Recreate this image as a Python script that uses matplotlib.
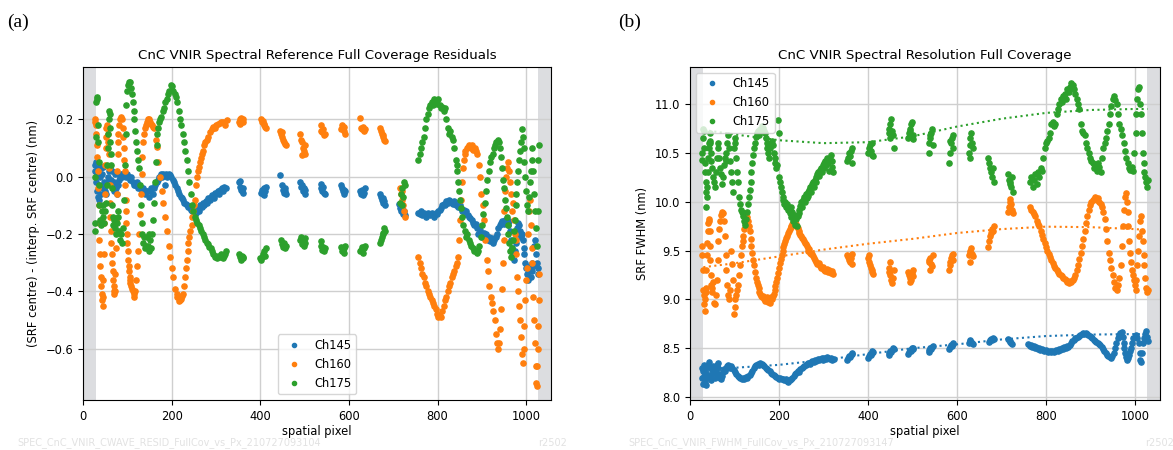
import matplotlib
matplotlib.use("Agg")
import matplotlib.pyplot as plt

# ---- panel (a): centre residuals, (pixel, nm) ----
resid_145 = [
    (27, 0.04), (28, 0.02), (29, -0.02), (30, 0.05), (31, -0.05), (32, 0.01), (33, -0.07), (34, 0.03),
    (35, -0.03), (36, 0.04), (37, -0.08), (38, 0.0), (40, 0.03), (41, -0.06), (42, 0.01), (44, -0.04),
    (45, 0.035), (47, -0.02), (49, -0.05), (51, -0.03), (53, -0.06), (55, -0.02), (57, 0.0), (59, 0.02),
    (61, 0.03), (63, -0.01), (65, 0.02), (67, -0.03), (69, -0.05), (71, -0.02), (73, 0.01), (75, -0.04),
    (77, -0.06), (79, -0.03), (81, -0.01), (83, 0.0), (85, 0.01), (88, 0.0), (91, 0.01), (94, 0.005),
    (97, 0.0), (100, 0.01), (103, 0.0), (106, -0.01), (109, 0.0), (112, -0.02), (115, -0.03), (118, -0.03),
    (121, -0.02), (124, -0.04), (127, -0.03), (130, -0.04), (133, -0.05), (136, -0.04), (139, -0.06),
    (142, -0.05), (145, -0.05), (148, -0.07), (151, -0.05), (154, -0.04), (157, -0.06), (160, -0.04),
    (163, -0.03), (166, -0.02), (169, -0.01), (172, 0.0), (175, 0.01), (178, 0.0), (181, 0.01),
    (184, 0.005), (185, -0.03), (187, 0.01), (190, 0.0), (193, 0.01), (196, 0.005), (199, 0.0), (202, -0.01),
    (205, -0.02), (208, -0.03), (211, -0.04), (214, -0.05), (217, -0.06), (220, -0.07), (223, -0.075),
    (226, -0.08), (229, -0.09), (232, -0.095), (235, -0.1), (238, -0.105), (241, -0.11), (244, -0.115),
    (247, -0.12), (250, -0.12), (253, -0.115), (256, -0.125), (259, -0.11), (262, -0.12), (265, -0.1),
    (268, -0.105), (271, -0.09), (274, -0.1), (277, -0.085), (280, -0.09), (283, -0.075), (286, -0.08),
    (289, -0.07), (292, -0.065), (295, -0.075), (298, -0.055), (301, -0.06), (304, -0.05), (307, -0.06),
    (310, -0.045), (313, -0.04), (316, -0.05), (319, -0.035), (322, -0.04),
    (352, -0.02), (354, -0.035), (356, -0.045), (358, -0.05), (360, -0.04), (362, -0.055), (355, -0.015),
    (402, -0.055), (404, -0.045), (406, -0.06), (408, -0.04), (410, -0.05), (412, -0.035), (409, -0.065),
    (445, 0.005), (450, -0.03), (452, -0.045), (454, -0.055), (456, -0.04), (458, -0.06), (455, -0.05),
    (490, -0.02), (492, -0.035), (494, -0.03), (496, -0.05), (498, -0.04), (500, -0.06), (502, -0.045),
    (536, -0.025), (538, -0.04), (540, -0.05), (542, -0.035), (544, -0.055), (546, -0.06),
    (582, -0.03), (584, -0.04), (586, -0.05), (588, -0.045), (590, -0.06), (592, -0.05),
    (626, -0.05), (628, -0.06), (630, -0.045), (632, -0.065), (634, -0.055), (636, -0.04),
    (670, -0.06), (672, -0.07), (674, -0.08), (676, -0.075), (678, -0.09), (680, -0.085), (682, -0.1),
    (714, -0.095), (716, -0.11), (718, -0.12), (720, -0.105), (722, -0.13), (724, -0.12), (726, -0.135),
    (757, -0.125), (760, -0.13), (763, -0.12), (766, -0.135), (769, -0.125), (772, -0.13), (775, -0.14),
    (778, -0.125), (781, -0.13), (784, -0.135), (787, -0.125), (790, -0.13), (793, -0.14), (796, -0.125),
    (799, -0.13), (802, -0.12), (805, -0.115), (808, -0.11), (811, -0.1), (814, -0.095), (817, -0.1),
    (820, -0.085), (823, -0.09), (826, -0.08), (829, -0.085), (832, -0.09), (835, -0.095), (838, -0.085),
    (841, -0.1), (844, -0.09), (847, -0.105), (850, -0.1), (853, -0.11), (856, -0.12), (859, -0.115),
    (862, -0.13), (865, -0.12), (868, -0.135), (871, -0.14), (874, -0.145), (877, -0.15), (880, -0.16),
    (883, -0.17), (886, -0.165), (889, -0.18), (892, -0.2), (895, -0.185), (898, -0.2), (901, -0.21),
    (904, -0.195), (907, -0.215), (910, -0.2), (913, -0.22), (916, -0.21), (919, -0.225), (922, -0.215),
    (925, -0.23), (928, -0.22), (931, -0.21), (934, -0.2), (937, -0.18), (940, -0.17), (943, -0.16),
    (946, -0.155), (949, -0.165), (952, -0.15), (955, -0.16), (958, -0.17), (961, -0.155), (964, -0.19),
    (966, -0.22), (968, -0.25), (970, -0.27), (972, -0.29), (974, -0.26), (976, -0.23), (978, -0.2),
    (980, -0.18), (982, -0.16), (984, -0.17), (986, -0.19), (988, -0.21), (990, -0.2), (992, -0.22),
    (994, -0.25), (996, -0.27), (998, -0.3), (1000, -0.32), (1002, -0.34), (1004, -0.36), (1006, -0.33),
    (1008, -0.31), (1010, -0.35), (1012, -0.3), (1014, -0.33), (1016, -0.31), (1018, -0.24), (1020, -0.22),
    (1022, -0.27), (1024, -0.3), (1026, -0.34), (1027, -0.32),
]

resid_160 = [
    (27, 0.19), (28, 0.2), (29, 0.18), (30, 0.15), (31, 0.11), (32, 0.07), (33, 0.02), (34, -0.04),
    (35, -0.1), (36, -0.16), (37, -0.22), (38, -0.27), (39, -0.31), (40, -0.35), (41, -0.38), (42, -0.41),
    (43, -0.43), (44, -0.45), (45, -0.42), (46, -0.36), (47, -0.27), (48, -0.16), (49, -0.06), (50, 0.04),
    (51, 0.1), (52, 0.14), (53, 0.17), (54, 0.18), (55, 0.17), (56, 0.15), (57, 0.12), (58, 0.08),
    (59, 0.03), (60, -0.03), (61, -0.09), (62, -0.14), (63, -0.19), (64, -0.23), (65, -0.27), (66, -0.3),
    (67, -0.33), (68, -0.36), (69, -0.38), (70, -0.4), (71, -0.41), (72, -0.4), (73, -0.34), (74, -0.25),
    (75, -0.15), (76, -0.06), (77, 0.02), (78, 0.08), (79, 0.12), (80, 0.15), (82, 0.18), (84, 0.2),
    (86, 0.21), (88, 0.2), (90, 0.17), (91, 0.14), (92, 0.1), (93, 0.06), (94, 0.02), (95, -0.03),
    (96, -0.08), (97, -0.12), (98, -0.16), (99, -0.2), (100, -0.23), (101, -0.26), (102, -0.29),
    (103, -0.31), (104, -0.33), (105, -0.35), (106, -0.36), (107, -0.37), (108, -0.38), (110, -0.39),
    (112, -0.4), (114, -0.41), (116, -0.42), (118, -0.4), (120, -0.36), (122, -0.31), (124, -0.26),
    (126, -0.2), (128, -0.13), (130, -0.06), (132, 0.01), (134, 0.07), (136, 0.12), (138, 0.15),
    (140, 0.17), (142, 0.18), (144, 0.19), (146, 0.2), (148, 0.195), (150, 0.2), (152, 0.19), (154, 0.185),
    (156, 0.18), (158, 0.175), (160, 0.17), (164, 0.13), (166, 0.105), (170, 0.05), (174, 0.0),
    (178, -0.05), (181, -0.09), (185, -0.14), (189, -0.19), (193, -0.24), (196, -0.28), (200, -0.32),
    (204, -0.35), (208, -0.39), (211, -0.41), (213, -0.42), (215, -0.42), (217, -0.435), (219, -0.43),
    (222, -0.425), (224, -0.415), (226, -0.41), (228, -0.38), (230, -0.35), (232, -0.32), (234, -0.29),
    (236, -0.26), (238, -0.23), (240, -0.21), (242, -0.19), (245, -0.17), (247, -0.14), (249, -0.12),
    (251, -0.1), (253, -0.08), (256, -0.03), (258, 0.0), (260, 0.02), (262, 0.035), (264, 0.05),
    (266, 0.065), (268, 0.08), (270, 0.09), (273, 0.11), (276, 0.12), (279, 0.13), (282, 0.14),
    (286, 0.155), (290, 0.165), (294, 0.175), (297, 0.17), (301, 0.18), (305, 0.185), (309, 0.186),
    (312, 0.19), (316, 0.19), (320, 0.18), (324, 0.198),
    (352, 0.19), (354, 0.2), (356, 0.205), (358, 0.195), (360, 0.19), (362, 0.2), (355, 0.185),
    (402, 0.2), (404, 0.19), (406, 0.195), (408, 0.18), (410, 0.175), (412, 0.17), (409, 0.185),
    (445, 0.16), (447, 0.15), (449, 0.14), (451, 0.13), (453, 0.12), (455, 0.115), (457, 0.11), (450, 0.155),
    (490, 0.15), (492, 0.13), (494, 0.12), (496, 0.1), (498, 0.09), (500, 0.08), (502, 0.11), (495, 0.075),
    (536, 0.18), (538, 0.16), (540, 0.155), (542, 0.165), (544, 0.145), (546, 0.15),
    (582, 0.165), (584, 0.18), (586, 0.17), (588, 0.16), (590, 0.175), (592, 0.15),
    (626, 0.205), (628, 0.17), (630, 0.165), (632, 0.175), (634, 0.16), (636, 0.165),
    (670, 0.17), (672, 0.16), (674, 0.15), (676, 0.145), (678, 0.14), (680, 0.13), (682, 0.125),
    (716, -0.04), (718, -0.06), (720, -0.08), (722, -0.1), (724, -0.12), (726, -0.14), (719, -0.05),
    (757, -0.28), (760, -0.3), (763, -0.32), (766, -0.34), (769, -0.35), (772, -0.37), (775, -0.38),
    (778, -0.4), (781, -0.41), (784, -0.42), (787, -0.43), (790, -0.44), (793, -0.45), (796, -0.46),
    (799, -0.48), (802, -0.49), (805, -0.485), (808, -0.49), (811, -0.47), (814, -0.45), (817, -0.43),
    (820, -0.42), (823, -0.4), (826, -0.38), (829, -0.37), (832, -0.35), (835, -0.34), (838, -0.33),
    (841, -0.31), (844, -0.3), (847, -0.28), (849, -0.22), (851, -0.15), (853, -0.08), (855, -0.02),
    (857, 0.03), (859, 0.06), (861, 0.08), (863, 0.09), (866, 0.1), (869, 0.105), (872, 0.11), (875, 0.1),
    (878, 0.11), (881, 0.095), (884, 0.1), (887, 0.09), (890, 0.08), (893, 0.04), (896, 0.0), (899, -0.06),
    (902, -0.1), (905, -0.15), (908, -0.22), (911, -0.29), (914, -0.33), (917, -0.38), (920, -0.42),
    (923, -0.44), (926, -0.47), (929, -0.5), (932, -0.55), (935, -0.58), (937, -0.6), (939, -0.58),
    (941, -0.53), (943, -0.46), (945, -0.39), (947, -0.3), (949, -0.22), (951, -0.12), (953, -0.05),
    (955, 0.0), (957, 0.03), (960, 0.05), (962, 0.02), (964, -0.02), (966, -0.06), (968, -0.12),
    (970, -0.09), (972, -0.15), (974, -0.2), (976, -0.22), (978, -0.27), (980, -0.35), (982, -0.4),
    (984, -0.45), (986, -0.5), (988, -0.56), (990, -0.62), (992, -0.65), (994, -0.6), (996, -0.52),
    (998, -0.43), (1000, -0.36), (1002, -0.32), (1004, -0.2), (1006, -0.12), (1008, -0.08), (1010, -0.17),
    (1012, -0.25), (1014, -0.3), (1016, -0.42), (1018, -0.5), (1020, -0.58), (1022, -0.66), (1023, -0.72),
    (1024, -0.73), (1025, -0.66), (1026, -0.6), (1027, -0.52), (1028, -0.43), (1028, -0.34),
]

resid_175 = [
    (26, -0.16), (27, -0.19), (28, 0.0), (29, 0.14), (30, 0.26), (31, 0.28), (32, 0.27), (33, 0.18),
    (34, 0.12), (35, 0.05), (36, -0.03), (37, -0.1), (38, -0.15), (40, -0.17), (42, -0.12), (44, -0.1),
    (46, -0.14), (48, -0.16), (50, -0.12), (52, -0.09), (54, -0.03), (55, 0.04), (56, 0.1), (57, 0.15),
    (58, 0.2), (59, 0.23), (60, 0.22), (61, 0.17), (62, 0.12), (63, 0.08), (64, 0.04), (65, -0.04),
    (66, -0.1), (67, -0.14), (68, -0.17), (70, -0.15), (72, -0.18), (74, -0.2), (76, -0.16), (78, -0.12),
    (80, -0.14), (82, -0.19), (84, -0.22), (86, -0.2), (88, -0.23), (90, -0.18), (92, -0.08), (94, 0.04),
    (96, 0.15), (98, 0.25), (100, 0.3), (102, 0.32), (104, 0.33), (106, 0.33), (108, 0.31), (110, 0.29),
    (112, 0.26), (114, 0.23), (116, 0.2), (118, 0.16), (120, 0.12), (122, 0.09), (124, 0.06), (126, 0.03),
    (128, -0.03), (130, -0.1), (132, -0.16), (134, -0.2), (136, -0.23), (138, -0.21), (140, -0.25),
    (142, -0.24), (144, -0.21), (146, -0.24), (148, -0.2), (150, -0.26), (152, -0.22), (154, -0.25),
    (156, -0.2), (158, -0.15), (160, -0.09), (162, -0.02), (164, 0.05), (166, 0.11), (168, 0.15),
    (170, 0.17), (172, 0.19), (174, 0.2), (177, 0.21), (180, 0.23), (183, 0.24), (186, 0.26), (189, 0.27),
    (192, 0.29), (195, 0.3), (198, 0.32), (201, 0.315), (204, 0.3), (207, 0.29), (210, 0.28), (213, 0.26),
    (216, 0.23), (219, 0.2), (222, 0.18), (225, 0.15), (228, 0.12), (231, 0.09), (234, 0.06), (237, 0.02),
    (240, -0.02), (243, -0.06), (246, -0.1), (249, -0.12), (252, -0.14), (255, -0.15), (258, -0.16),
    (261, -0.17), (264, -0.18), (267, -0.19), (270, -0.2), (273, -0.21), (276, -0.22), (279, -0.23),
    (282, -0.235), (285, -0.245), (288, -0.25), (291, -0.26), (294, -0.27), (297, -0.28), (300, -0.275),
    (303, -0.285), (306, -0.275), (309, -0.28), (312, -0.27), (315, -0.285), (318, -0.275), (321, -0.27),
    (323, -0.26),
    (352, -0.27), (354, -0.28), (356, -0.29), (358, -0.275), (360, -0.285), (362, -0.28),
    (400, -0.285), (402, -0.29), (404, -0.28), (406, -0.27), (408, -0.26), (410, -0.275), (412, -0.25),
    (447, -0.22), (449, -0.235), (451, -0.245), (453, -0.23), (455, -0.25), (457, -0.24),
    (490, -0.22), (492, -0.21), (494, -0.235), (496, -0.225), (498, -0.24), (500, -0.23), (502, -0.215),
    (536, -0.225), (538, -0.24), (540, -0.255), (542, -0.245), (544, -0.26), (546, -0.25),
    (582, -0.245), (584, -0.26), (586, -0.255), (588, -0.265), (590, -0.25), (592, -0.24),
    (626, -0.26), (628, -0.255), (630, -0.245), (632, -0.265), (634, -0.25), (636, -0.24),
    (670, -0.23), (672, -0.22), (674, -0.21), (676, -0.2), (678, -0.195), (680, -0.18), (682, -0.19),
    (716, -0.09), (718, -0.06), (720, -0.04), (722, -0.07), (724, -0.02), (726, -0.03), (719, -0.1),
    (757, 0.06), (760, 0.08), (763, 0.1), (766, 0.12), (769, 0.14), (772, 0.17), (775, 0.2), (778, 0.22),
    (781, 0.24), (784, 0.25), (787, 0.26), (790, 0.25), (793, 0.27), (796, 0.26), (799, 0.255), (802, 0.27),
    (805, 0.25), (808, 0.24), (811, 0.245), (814, 0.23), (817, 0.24), (820, 0.2), (823, 0.17), (826, 0.15),
    (829, 0.16), (832, 0.14), (835, 0.13), (838, 0.1), (841, 0.06), (843, 0.04), (845, 0.02), (847, -0.02),
    (849, -0.05), (851, -0.08), (853, -0.11), (855, -0.14), (858, -0.17), (861, -0.19), (864, -0.21),
    (867, -0.2), (870, -0.22), (873, -0.23), (876, -0.24), (879, -0.25), (882, -0.26), (885, -0.255),
    (888, -0.265), (891, -0.26), (894, -0.24), (897, -0.21), (900, -0.17), (903, -0.13), (906, -0.09),
    (909, -0.05), (912, -0.01), (915, 0.02), (918, 0.05), (921, 0.07), (924, 0.08), (927, 0.1), (930, 0.11),
    (933, 0.12), (936, 0.13), (939, 0.12), (942, 0.1), (944, 0.07), (946, 0.03), (948, -0.01), (950, -0.04),
    (952, -0.08), (954, -0.11), (956, -0.14), (958, -0.17), (960, -0.2), (962, -0.23), (964, -0.26),
    (966, -0.28), (968, -0.25), (970, -0.22), (972, -0.19), (974, -0.15), (976, -0.1), (978, -0.06),
    (980, -0.02), (982, 0.02), (984, 0.06), (986, 0.09), (988, 0.12), (990, 0.165), (992, 0.14), (994, 0.1),
    (996, 0.05), (998, 0.0), (1000, -0.05), (1002, -0.1), (1004, -0.12), (1006, -0.07), (1008, -0.02),
    (1010, 0.02), (1012, 0.06), (1014, 0.1), (1016, 0.02), (1018, -0.06), (1020, -0.12), (1022, -0.18),
    (1024, -0.24), (1026, -0.12), (1027, 0.06), (1028, 0.11),
]

# ---- panel (b): FWHM, (pixel, nm) ----
fwhm_145 = [
    (27, 8.3), (28, 8.2), (29, 8.13), (30, 8.27), (31, 8.33), (32, 8.22), (33, 8.15), (34, 8.3), (35, 8.25),
    (36, 8.12), (38, 8.2), (40, 8.33), (42, 8.36), (44, 8.3), (46, 8.22), (48, 8.17), (50, 8.25), (52, 8.32),
    (54, 8.28), (56, 8.2), (58, 8.25), (60, 8.33), (62, 8.35), (64, 8.3), (66, 8.24), (68, 8.2), (70, 8.18),
    (72, 8.22), (74, 8.26), (76, 8.29), (78, 8.27), (80, 8.3), (83, 8.32), (86, 8.33), (89, 8.3), (92, 8.32),
    (95, 8.3), (98, 8.28), (101, 8.26), (104, 8.24), (107, 8.22), (110, 8.21), (113, 8.2), (116, 8.19),
    (119, 8.2), (122, 8.19), (125, 8.21), (128, 8.2), (131, 8.22), (134, 8.23), (137, 8.25), (140, 8.27),
    (143, 8.3), (146, 8.32), (149, 8.33), (152, 8.34), (155, 8.33), (158, 8.35), (161, 8.34), (164, 8.33),
    (167, 8.32), (170, 8.3), (173, 8.29), (176, 8.28), (179, 8.27), (182, 8.25), (185, 8.24), (188, 8.23),
    (191, 8.22), (194, 8.21), (197, 8.2), (200, 8.19), (203, 8.2), (206, 8.18), (209, 8.19), (212, 8.17),
    (215, 8.18), (218, 8.16), (221, 8.15), (224, 8.17), (227, 8.19), (230, 8.2), (233, 8.22), (236, 8.24),
    (239, 8.25), (242, 8.27), (245, 8.26), (248, 8.29), (251, 8.3), (254, 8.31), (257, 8.32), (260, 8.33),
    (263, 8.34), (266, 8.35), (269, 8.34), (272, 8.36), (275, 8.37), (278, 8.36), (281, 8.38), (284, 8.37),
    (287, 8.39), (290, 8.38), (293, 8.39), (296, 8.4), (299, 8.38), (302, 8.4), (305, 8.39), (308, 8.41),
    (311, 8.4), (314, 8.39), (317, 8.4), (320, 8.38), (323, 8.39),
    (353, 8.38), (355, 8.4), (357, 8.42), (359, 8.41), (361, 8.43), (363, 8.45), (365, 8.44),
    (400, 8.4), (402, 8.42), (404, 8.44), (406, 8.43), (408, 8.45), (410, 8.47), (412, 8.46),
    (446, 8.43), (448, 8.45), (450, 8.47), (452, 8.46), (454, 8.48), (456, 8.5), (458, 8.49),
    (490, 8.44), (492, 8.46), (494, 8.48), (496, 8.47), (498, 8.5), (500, 8.49), (502, 8.5),
    (536, 8.46), (538, 8.48), (540, 8.5), (542, 8.49), (544, 8.51), (546, 8.52),
    (582, 8.49), (584, 8.51), (586, 8.53), (588, 8.52), (590, 8.54), (592, 8.55),
    (626, 8.55), (628, 8.57), (630, 8.58), (632, 8.56), (634, 8.55), (636, 8.54),
    (672, 8.56), (674, 8.58), (676, 8.59), (678, 8.58), (680, 8.6), (682, 8.59),
    (714, 8.59), (716, 8.58), (718, 8.57), (720, 8.56), (722, 8.55), (724, 8.54),
    (760, 8.54), (763, 8.52), (766, 8.53), (769, 8.51), (772, 8.52), (775, 8.5), (778, 8.51), (781, 8.49),
    (784, 8.5), (787, 8.48), (790, 8.49), (793, 8.48), (796, 8.47), (799, 8.48), (802, 8.47), (805, 8.46),
    (808, 8.47), (811, 8.46), (814, 8.47), (817, 8.46), (820, 8.47), (823, 8.48), (826, 8.47), (829, 8.49),
    (832, 8.48), (835, 8.5), (838, 8.49), (841, 8.51), (844, 8.5), (847, 8.52), (850, 8.51), (853, 8.53),
    (856, 8.55), (859, 8.57), (862, 8.58), (865, 8.6), (868, 8.61), (871, 8.62), (874, 8.63), (877, 8.64),
    (880, 8.645), (883, 8.655), (886, 8.65), (889, 8.66), (892, 8.65), (895, 8.64), (898, 8.63), (901, 8.62),
    (904, 8.6), (907, 8.58), (910, 8.57), (913, 8.56), (916, 8.55), (919, 8.54), (922, 8.53), (925, 8.51),
    (928, 8.49), (931, 8.47), (934, 8.45), (937, 8.43), (940, 8.42), (943, 8.41), (946, 8.4), (949, 8.42),
    (952, 8.45), (955, 8.5), (958, 8.55), (961, 8.6), (964, 8.64), (967, 8.66), (970, 8.67), (972, 8.62),
    (974, 8.55), (976, 8.5), (978, 8.45), (980, 8.41), (982, 8.38), (984, 8.4), (986, 8.43), (988, 8.47),
    (990, 8.5), (993, 8.55), (996, 8.6), (999, 8.62), (1002, 8.64), (1005, 8.6), (1008, 8.55), (1010, 8.45),
    (1012, 8.38), (1014, 8.36), (1016, 8.45), (1018, 8.55), (1020, 8.6), (1022, 8.65), (1024, 8.68),
    (1026, 8.62), (1028, 8.57),
]

fwhm_160 = [
    (27, 9.55), (28, 9.45), (29, 9.3), (30, 9.1), (31, 9.05), (32, 8.95), (33, 8.88), (34, 9.0), (35, 9.12),
    (36, 9.08), (37, 9.3), (38, 9.45), (39, 9.58), (40, 9.7), (41, 9.78), (42, 9.82), (43, 9.8), (44, 9.7),
    (45, 9.55), (46, 9.4), (47, 9.25), (48, 9.15), (49, 9.08), (50, 9.12), (52, 9.18), (54, 8.96), (56, 8.95),
    (58, 9.05), (60, 9.2), (62, 9.4), (64, 9.6), (66, 9.72), (68, 9.8), (70, 9.86), (72, 9.9), (74, 9.88),
    (76, 9.8), (78, 9.65), (80, 9.45), (82, 9.3), (84, 9.15), (86, 9.05), (88, 9.0), (90, 9.1), (92, 9.5),
    (94, 9.36), (96, 9.2), (98, 8.85), (100, 8.92), (102, 9.0), (104, 9.05), (106, 9.1), (108, 9.15),
    (110, 9.25), (112, 9.35), (114, 9.45), (116, 9.55), (118, 9.6), (120, 9.65), (122, 9.72), (124, 9.78),
    (126, 9.82), (128, 9.84), (130, 9.8), (132, 9.75), (134, 9.7), (136, 9.62), (138, 9.55), (140, 9.48),
    (142, 9.4), (144, 9.35), (146, 9.28), (148, 9.22), (150, 9.18), (152, 9.15), (154, 9.12), (156, 9.08),
    (158, 9.06), (160, 9.04), (162, 9.02), (164, 9.03), (166, 9.0), (168, 8.98), (170, 9.01), (172, 8.99),
    (174, 9.02), (176, 8.97), (178, 9.0), (180, 8.96), (182, 9.02), (184, 9.0), (186, 9.04), (188, 9.06),
    (190, 9.1), (192, 9.14), (194, 9.18), (196, 9.22), (198, 9.27), (200, 9.32), (202, 9.37), (204, 9.41),
    (206, 9.45), (208, 9.5), (210, 9.54), (212, 9.57), (214, 9.6), (216, 9.63), (218, 9.65), (220, 9.68),
    (222, 9.7), (224, 9.72), (226, 9.75), (228, 9.74), (230, 9.77), (232, 9.76), (234, 9.78), (236, 9.8),
    (238, 9.77), (240, 9.74), (242, 9.73), (244, 9.7), (246, 9.68), (248, 9.66), (250, 9.65), (252, 9.63),
    (254, 9.62), (256, 9.6), (258, 9.58), (260, 9.57), (262, 9.55), (264, 9.53), (266, 9.5), (268, 9.52),
    (270, 9.48), (272, 9.46), (274, 9.47), (276, 9.44), (278, 9.42), (280, 9.4), (283, 9.38), (286, 9.36),
    (289, 9.37), (292, 9.34), (295, 9.32), (298, 9.33), (301, 9.3), (304, 9.29), (307, 9.31), (310, 9.28),
    (313, 9.3), (316, 9.27), (319, 9.29), (322, 9.26),
    (353, 9.45), (355, 9.43), (357, 9.4), (359, 9.38), (361, 9.42), (363, 9.36), (365, 9.47),
    (400, 9.42), (402, 9.38), (404, 9.35), (406, 9.32), (408, 9.28), (410, 9.3), (412, 9.26), (403, 9.45),
    (446, 9.32), (448, 9.28), (450, 9.25), (452, 9.2), (454, 9.17), (456, 9.22), (458, 9.3), (449, 9.38),
    (490, 9.28), (492, 9.25), (494, 9.22), (496, 9.2), (498, 9.27), (500, 9.3), (502, 9.24), (495, 9.18),
    (536, 9.38), (538, 9.4), (540, 9.42), (542, 9.36), (544, 9.34), (546, 9.45), (539, 9.3),
    (582, 9.3), (584, 9.38), (586, 9.42), (588, 9.45), (590, 9.4), (592, 9.47), (585, 9.35),
    (626, 9.45), (628, 9.48), (630, 9.5), (632, 9.53), (634, 9.46), (636, 9.44), (629, 9.38),
    (670, 9.54), (672, 9.6), (674, 9.65), (676, 9.68), (678, 9.72), (680, 9.7), (682, 9.75),
    (714, 9.9), (716, 9.95), (718, 10.0), (720, 10.03), (722, 9.98), (724, 9.92), (726, 9.88), (719, 9.96),
    (764, 9.95), (767, 9.92), (770, 9.9), (773, 9.87), (776, 9.85), (779, 9.8), (782, 9.77), (785, 9.75),
    (788, 9.7), (791, 9.66), (794, 9.62), (797, 9.58), (800, 9.54), (803, 9.5), (806, 9.46), (809, 9.43),
    (812, 9.4), (815, 9.37), (818, 9.34), (821, 9.32), (824, 9.3), (827, 9.28), (830, 9.26), (833, 9.25),
    (836, 9.24), (839, 9.22), (842, 9.21), (845, 9.2), (848, 9.18), (851, 9.17), (854, 9.19), (857, 9.18),
    (860, 9.2), (863, 9.22), (866, 9.25), (869, 9.3), (872, 9.35), (875, 9.41), (878, 9.48), (881, 9.55),
    (884, 9.62), (887, 9.7), (890, 9.78), (893, 9.85), (896, 9.92), (899, 9.97), (902, 10.0), (905, 10.02),
    (908, 10.03), (911, 10.05), (914, 10.02), (917, 10.04), (920, 10.0), (923, 9.98), (926, 9.95), (929, 9.9),
    (932, 9.82), (935, 9.72), (938, 9.6), (941, 9.48), (944, 9.4), (947, 9.32), (950, 9.25), (953, 9.18),
    (956, 9.12), (959, 9.1), (962, 9.15), (965, 9.22), (968, 9.35), (971, 9.55), (973, 9.75), (975, 9.92),
    (977, 10.05), (979, 10.09), (981, 10.0), (983, 9.9), (985, 9.75), (987, 9.6), (989, 9.48), (991, 9.38),
    (993, 9.3), (995, 9.25), (997, 9.2), (999, 9.15), (1001, 9.1), (1003, 9.2), (1005, 9.35), (1007, 9.5),
    (1009, 9.65), (1011, 9.8), (1013, 9.85), (1015, 9.7), (1017, 9.6), (1019, 9.45), (1021, 9.35),
    (1023, 9.22), (1025, 9.12), (1027, 9.08), (1028, 9.1),
]

fwhm_175 = [
    (27, 10.43), (28, 10.5), (29, 10.65), (30, 10.75), (31, 10.72), (32, 10.55), (33, 10.4), (34, 10.3),
    (35, 10.2), (36, 10.1), (37, 9.95), (38, 10.05), (39, 10.15), (40, 10.3), (41, 10.45), (42, 10.55),
    (43, 10.6), (44, 10.62), (45, 10.7), (46, 10.6), (47, 10.5), (48, 10.42), (50, 10.35), (52, 10.25),
    (54, 10.2), (56, 10.15), (58, 10.3), (60, 10.45), (62, 10.55), (64, 10.6), (66, 10.45), (68, 10.35),
    (70, 10.28), (72, 10.18), (74, 10.25), (76, 10.38), (78, 10.45), (80, 10.42), (82, 10.5), (84, 10.6),
    (86, 10.68), (88, 10.55), (90, 10.42), (92, 10.3), (94, 10.2), (96, 10.1), (98, 10.55), (100, 10.65),
    (102, 10.6), (104, 10.45), (106, 10.3), (108, 10.2), (110, 10.05), (112, 9.98), (114, 9.92), (116, 9.9),
    (118, 9.88), (120, 9.85), (122, 9.8), (124, 9.76), (126, 9.82), (128, 9.9), (130, 9.98), (132, 10.05),
    (134, 10.12), (136, 10.2), (138, 10.3), (140, 10.4), (142, 10.48), (144, 10.55), (146, 10.6),
    (148, 10.66), (150, 10.7), (152, 10.72), (154, 10.68), (156, 10.7), (158, 10.75), (160, 10.73),
    (162, 10.78), (164, 10.76), (166, 10.72), (168, 10.7), (170, 10.65), (172, 10.6), (174, 10.55),
    (176, 10.5), (178, 10.45), (180, 10.55), (182, 10.6), (184, 10.62), (186, 10.58), (188, 10.5),
    (190, 10.45), (192, 10.4), (194, 10.35), (196, 10.38), (198, 10.84), (199, 10.7), (200, 10.25),
    (202, 10.2), (204, 10.15), (206, 10.1), (208, 10.05), (210, 10.02), (212, 9.98), (214, 10.0),
    (216, 9.95), (218, 9.98), (220, 9.92), (222, 9.94), (224, 9.88), (226, 9.95), (228, 9.84), (230, 9.9),
    (232, 9.8), (234, 9.86), (236, 9.76), (238, 9.82), (240, 9.75), (242, 9.85), (244, 9.92), (246, 9.88),
    (248, 9.96), (250, 10.0), (252, 9.95), (254, 10.02), (256, 10.05), (258, 10.0), (260, 10.08),
    (262, 10.04), (264, 10.1), (266, 10.06), (268, 10.12), (270, 10.15), (272, 10.1), (274, 10.18),
    (276, 10.2), (278, 10.15), (280, 10.22), (282, 10.25), (284, 10.2), (286, 10.28), (288, 10.3),
    (290, 10.26), (292, 10.33), (294, 10.35), (296, 10.3), (298, 10.38), (300, 10.4), (302, 10.35),
    (304, 10.42), (306, 10.38), (308, 10.45), (310, 10.4), (312, 10.32), (314, 10.44), (316, 10.48),
    (318, 10.36), (320, 10.42), (322, 10.3),
    (353, 10.42), (355, 10.45), (357, 10.5), (359, 10.47), (361, 10.52), (363, 10.4), (365, 10.55),
    (400, 10.5), (402, 10.55), (404, 10.58), (406, 10.52), (408, 10.6), (410, 10.48), (412, 10.47),
    (446, 10.7), (448, 10.75), (450, 10.8), (452, 10.85), (454, 10.72), (456, 10.68), (458, 10.55), (449, 10.65),
    (490, 10.65), (492, 10.7), (494, 10.75), (496, 10.8), (498, 10.82), (500, 10.68), (502, 10.64), (495, 10.72),
    (536, 10.5), (538, 10.6), (540, 10.65), (542, 10.7), (544, 10.75), (546, 10.58), (539, 10.68),
    (582, 10.4), (584, 10.5), (586, 10.6), (588, 10.65), (590, 10.68), (592, 10.55), (585, 10.62),
    (626, 10.5), (628, 10.58), (630, 10.65), (632, 10.7), (634, 10.6), (636, 10.55), (629, 10.45),
    (670, 10.45), (672, 10.4), (674, 10.35), (676, 10.3), (678, 10.25), (680, 10.35), (682, 10.2),
    (714, 10.28), (716, 10.22), (718, 10.2), (720, 10.18), (722, 10.15), (724, 10.25), (726, 10.1),
    (764, 10.2), (767, 10.25), (770, 10.15), (773, 10.22), (776, 10.28), (779, 10.18), (782, 10.3),
    (785, 10.25), (788, 10.35), (791, 10.32), (794, 10.45), (797, 10.55), (800, 10.6), (803, 10.62),
    (806, 10.65), (809, 10.7), (812, 10.8), (815, 10.82), (818, 10.78), (821, 10.8), (824, 10.9),
    (827, 10.95), (830, 11.0), (833, 11.05), (836, 11.02), (839, 11.08), (842, 11.1), (845, 11.05),
    (848, 11.15), (851, 11.12), (854, 11.18), (857, 11.22), (860, 11.2), (863, 11.15), (866, 11.1),
    (869, 11.05), (872, 11.0), (875, 10.95), (878, 10.8), (881, 10.72), (884, 10.7), (887, 10.68),
    (890, 10.6), (893, 10.55), (896, 10.5), (899, 10.45), (902, 10.42), (905, 10.4), (908, 10.35),
    (911, 10.38), (914, 10.32), (917, 10.4), (920, 10.36), (923, 10.3), (926, 10.45), (929, 10.55),
    (932, 10.6), (935, 10.65), (938, 10.72), (941, 10.8), (944, 10.9), (947, 10.98), (950, 11.05),
    (953, 11.08), (956, 11.04), (959, 11.0), (962, 10.9), (965, 10.8), (968, 10.75), (971, 10.68),
    (974, 10.6), (977, 10.52), (980, 10.45), (983, 10.4), (986, 10.35), (989, 10.33), (992, 10.36),
    (995, 10.32), (998, 10.5), (1001, 10.7), (1003, 10.9), (1005, 11.05), (1007, 11.15), (1009, 11.18),
    (1011, 11.0), (1013, 10.9), (1015, 10.7), (1017, 10.5), (1019, 10.4), (1021, 10.3), (1023, 10.25),
    (1025, 10.2), (1027, 10.15), (1028, 10.22),
]

# smooth fits drawn dotted on panel (b)
fit_px = [30, 100, 200, 300, 400, 500, 600, 700, 800, 900, 1000, 1028]
fit_145 = [8.29, 8.30, 8.33, 8.38, 8.44, 8.50, 8.54, 8.59, 8.625, 8.64, 8.645, 8.645]
fit_160 = [9.33, 9.37, 9.44, 9.51, 9.57, 9.62, 9.68, 9.72, 9.745, 9.74, 9.72, 9.71]
fit_175 = [10.735, 10.69, 10.63, 10.60, 10.61, 10.67, 10.77, 10.85, 10.91, 10.94, 10.95, 10.95]

channels = ['Ch145', 'Ch160', 'Ch175']
colours = ['#1f77b4', '#ff7f0e', '#2ca02c']
masked = [(0, 30), (1026, 1056)]

FS = 8.3
MS = 7.5
W, H = 1173, 450
fig = plt.figure(figsize=(W / 100, H / 100), dpi=100)
ax1 = fig.add_axes([83 / W, 50 / H, 468 / W, 333 / H])
ax2 = fig.add_axes([690 / W, 50 / H, 470 / W, 333 / H])


def setup(ax, title, ylabel):
    for a, b in masked:
        ax.axvspan(a, b, color='#dcdde0', lw=0, zorder=0)
    ax.grid(True, color='#cfcfcf', lw=1.0)
    ax.set_axisbelow(True)
    ax.set_xlim(0, 1056)
    ax.set_title(title, fontsize=9.6)
    ax.set_xlabel('spatial pixel', fontsize=FS, labelpad=2)
    ax.set_ylabel(ylabel, fontsize=FS)
    ax.tick_params(labelsize=FS)


setup(ax1, 'CnC VNIR Spectral Reference Full Coverage Residuals',
      '(SRF centre) - (interp. SRF centre) (nm)')
for data, name, c in zip([resid_145, resid_160, resid_175], channels, colours):
    xs, ys = zip(*data)
    ax1.plot(xs, ys, '.', color=c, ms=MS, label=name)
ax1.set_ylim(-0.779, 0.383)
ax1.set_xticks([0, 200, 400, 600, 800, 1000])
ax1.legend(loc='lower center', fontsize=FS, markerscale=0.8)

setup(ax2, 'CnC VNIR Spectral Resolution Full Coverage', 'SRF FWHM (nm)')
for data, fit, name, c in zip([fwhm_145, fwhm_160, fwhm_175], [fit_145, fit_160, fit_175],
                              channels, colours):
    xs, ys = zip(*data)
    ax2.plot(xs, ys, '.', color=c, ms=MS, label=name)
    ax2.plot(fit_px, fit, ':', color=c, lw=1.5)
ax2.set_ylim(7.97, 11.38)
ax2.set_xticks([0, 200, 400, 600, 800, 1000])
ax2.legend(loc='upper left', fontsize=FS, markerscale=0.8)

fig.text(7 / W, 1 - 22 / H, '(a)', family='Liberation Serif', fontsize=14, va='center')
fig.text(618 / W, 1 - 22 / H, '(b)', family='Liberation Serif', fontsize=14, va='center')

foot = dict(fontsize=7, color='#e2e2e2', va='center')
fig.text(17 / W, 1 - 443 / H, 'SPEC_CnC_VNIR_CWAVE_RESID_FullCov_vs_Px_210727093104', **foot)
fig.text(538 / W, 1 - 443 / H, 'r2502', **foot)
fig.text(628 / W, 1 - 443 / H, 'SPEC_CnC_VNIR_FWHM_FullCov_vs_Px_210727093147', **foot)
fig.text(1145 / W, 1 - 443 / H, 'r2502', **foot)

fig.savefig('out.png', dpi=100)
